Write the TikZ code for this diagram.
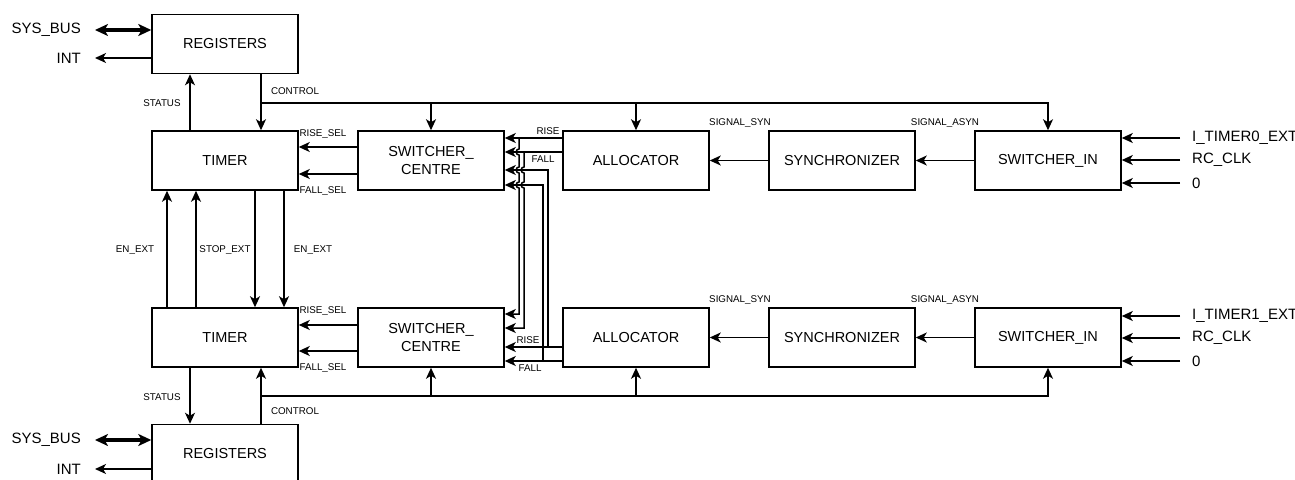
\documentclass[tikz,border=0pt]{standalone}
\usepackage{fontspec}
\setmainfont{Liberation Sans}
\usetikzlibrary{arrows.meta,calc,positioning}
\tikzset{blockbox/.style={draw=black,line width=1.5pt,minimum width=146pt,minimum height=59pt,inner sep=0pt,font=\fontsize{14.5}{18}\selectfont,align=center},sidelabel/.style={font=\fontsize{15}{17}\selectfont,inner sep=0pt},wirelabel/.style={font=\fontsize{9.8}{11}\selectfont,inner sep=0pt},plainwire/.style={line width=1.5pt},wire/.style={line width=1.5pt,-{Stealth[length=11pt,width=10pt,inset=3pt]}},buswire/.style={line width=3.2pt,{Stealth[length=13pt,width=12pt,inset=3.5pt]}-{Stealth[length=13pt,width=12pt,inset=3.5pt]}},jumparc/.style={out=180,in=180,looseness=1.6}}

\begin{document}
\begin{tikzpicture}[x=1pt,y=-1pt]
\clip (0,0) rectangle (1295,479);
% upper channel
\node[blockbox] (regA) at (225,44) {REGISTERS};
\node[blockbox] (timA) at (225,160.5) {TIMER};
\node[blockbox] (swcA) at (431,160.5) {SWITCHER\_\\CENTRE};
\node[blockbox] (allA) at (636,160.5) {ALLOCATOR};
\node[blockbox] (synA) at (842,160.5) {SYNCHRONIZER};
\node[blockbox] (swiA) at (1048,160.5) {SWITCHER\_IN};
% lower channel
\node[blockbox] (regB) at (225,454) {REGISTERS};
\node[blockbox] (timB) at (225,337.5) {TIMER};
\node[blockbox] (swcB) at (431,337.5) {SWITCHER\_\\CENTRE};
\node[blockbox] (allB) at (636,337.5) {ALLOCATOR};
\node[blockbox] (synB) at (842,337.5) {SYNCHRONIZER};
\node[blockbox] (swiB) at (1048,337.5) {SWITCHER\_IN};
% bus and interrupt
\coordinate (busA) at (95,30);\coordinate (intA) at (95,58);
\coordinate (busB) at (95,440);\coordinate (intB) at (95,469);
\node[sidelabel,anchor=east] (busAl) at (81,30) {SYS\_BUS};\node[sidelabel,anchor=east] (intAl) at (81,58) {INT};
\node[sidelabel,anchor=east] (busBl) at (81,440) {SYS\_BUS};\node[sidelabel,anchor=east] (intBl) at (81,469) {INT};
\draw[buswire] (busA) -- (regA.west |- busA);\draw[wire] (regA.west |- intA) -- (intA);
\draw[buswire] (busB) -- (regB.west |- busB);\draw[wire] (regB.west |- intB) -- (intB);
% status and control
\coordinate (stA) at (190,103);\coordinate (ctlA) at (261,103);
\coordinate (stB) at (190,396);\coordinate (ctlB) at (261,396);
\draw[wire] (timA.north -| stA) -- (regA.south -| stA);
\draw[wire] (regA.south -| ctlA) -- (timA.north -| ctlA);
\draw[wire] (ctlA) -- (ctlA -| swiA.north) -- (swiA.north);
\draw[wire] (ctlA -| swcA.north) -- (swcA.north);\draw[wire] (ctlA -| allA.north) -- (allA.north);
\draw[wire] (timB.south -| stB) -- (regB.north -| stB);
\draw[wire] (regB.north -| ctlB) -- (timB.south -| ctlB);
\draw[wire] (ctlB) -- (ctlB -| swiB.south) -- (swiB.south);
\draw[wire] (ctlB -| swcB.south) -- (swcB.south);\draw[wire] (ctlB -| allB.south) -- (allB.south);
\node[wirelabel] (stAl) at (162,103) {STATUS};\node[wirelabel] (ctlAl) at (295,91) {CONTROL};
\node[wirelabel] (stBl) at (162,397) {STATUS};\node[wirelabel] (ctlBl) at (295,411) {CONTROL};
% timer to timer
\draw[wire] (timB.north -| 167,0) -- (timA.south -| 167,0);
\draw[wire] (timB.north -| 196,0) -- (timA.south -| 196,0);
\draw[wire] (timA.south -| 255,0) -- (timB.north -| 255,0);
\draw[wire] (timA.south -| 284,0) -- (timB.north -| 284,0);
\node[wirelabel] (enl) at (135,250) {EN\_EXT};\node[wirelabel] (stopl) at (225,250) {STOP\_EXT};\node[wirelabel] (enr) at (313,250) {EN\_EXT};
% edge select
\draw[wire] (swcA.west |- 0,147) -- (timA.east |- 0,147);\draw[wire] (swcA.west |- 0,174) -- (timA.east |- 0,174);
\draw[wire] (swcB.west |- 0,325) -- (timB.east |- 0,325);\draw[wire] (swcB.west |- 0,351) -- (timB.east |- 0,351);
\node[wirelabel] at (323,134) {RISE\_SEL};\node[wirelabel] at (323,191) {FALL\_SEL};
\node[wirelabel] at (323,311) {RISE\_SEL};\node[wirelabel] at (323,368) {FALL\_SEL};
% allocator outputs
\coordinate (tapRA) at (519,138);\coordinate (tapFA) at (524,152);
\coordinate (tapRB) at (548,347);\coordinate (tapFB) at (543,361);
\draw[wire] (allA.west |- tapRA) -- (swcA.east |- tapRA);\draw[wire] (allA.west |- tapFA) -- (swcA.east |- tapFA);
\draw[wire] (allB.west |- tapRB) -- (swcB.east |- tapRB);\draw[wire] (allB.west |- tapFB) -- (swcB.east |- tapFB);
\draw[wire] (tapRB) -- (548,170) -- (swcA.east |- 0,170);
\draw[wire] (tapFB) -- (543,185) -- (swcA.east |- 0,185);
\draw[wire] (tapRA) -- (519,149) to[jumparc] (519,155) -- (519,167) to[jumparc] (519,173) -- (519,182) to[jumparc] (519,188) -- (519,314) -- (swcB.east |- 0,314);
\draw[wire] (tapFA) -- (524,167) to[jumparc] (524,173) -- (524,182) to[jumparc] (524,188) -- (524,328) -- (swcB.east |- 0,328);
\node[wirelabel] at (548,131) {RISE};\node[wirelabel] at (543,159) {FALL};
\node[wirelabel] at (528,340) {RISE};\node[wirelabel] at (530,368) {FALL};
% signal chain
\draw[wire] (swiA.west) -- (synA.east);\draw[wire] (synA.west) -- (allA.east);
\draw[wire] (swiB.west) -- (synB.east);\draw[wire] (synB.west) -- (allB.east);
\node[wirelabel] at (740,123) {SIGNAL\_SYN};\node[wirelabel] at (945,123) {SIGNAL\_ASYN};
\node[wirelabel] at (740,300) {SIGNAL\_SYN};\node[wirelabel] at (945,300) {SIGNAL\_ASYN};
% clock inputs
\foreach \nm/\yy/\tx in {inA1/138/I\_TIMER0\_EXT,inA2/160/RC\_CLK,inA3/183/0,inB1/316/I\_TIMER1\_EXT,inB2/338/RC\_CLK,inB3/361/0}{
  \coordinate (\nm) at (1180,\yy);
  \node[sidelabel,anchor=west] (\nm l) at (1192,\yy) {\tx};
}
\draw[wire] (inA1) -- (swiA.east |- inA1);\draw[wire] (inA2) -- (swiA.east |- inA2);\draw[wire] (inA3) -- (swiA.east |- inA3);
\draw[wire] (inB1) -- (swiB.east |- inB1);\draw[wire] (inB2) -- (swiB.east |- inB2);\draw[wire] (inB3) -- (swiB.east |- inB3);
\end{tikzpicture}
\end{document}
